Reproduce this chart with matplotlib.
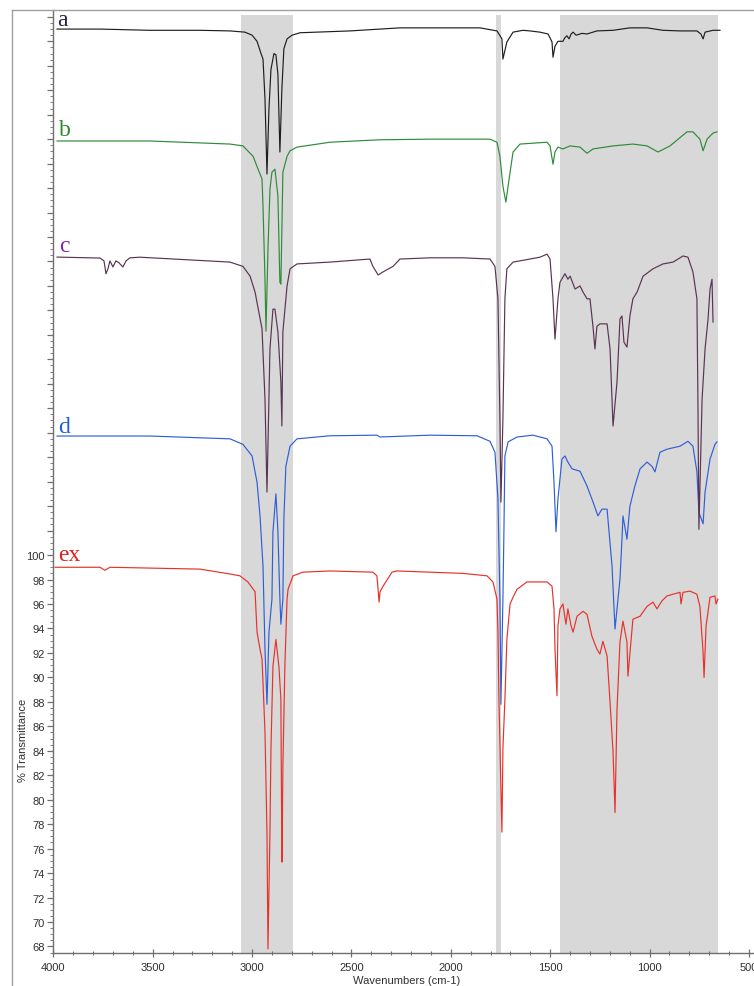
import matplotlib
matplotlib.use("Agg")
import matplotlib.pyplot as plt
from matplotlib.lines import Line2D

# ---------------- data (wavenumber cm-1, displayed %T with stacking offsets) -------------
a_wn = [3981, 3765, 3514, 3262, 3111, 3036, 3000, 2975, 2955, 2945, 2935, 2925, 2915, 2905, 2890, 2880,
        2870, 2860, 2850, 2840, 2824, 2799, 2759, 2507, 2256, 1853, 1768, 1743, 1738, 1718, 1687, 1637,
        1602, 1552, 1511, 1491, 1486, 1476, 1461, 1436, 1426, 1416, 1405, 1395, 1385, 1370, 1340, 1315,
        1265, 1184, 1099, 1013, 933, 847, 762, 742, 731, 721, 681, 646]
a_t = [143.0, 143.0, 142.9, 142.9, 142.85, 142.75, 142.5, 142.0, 141.0, 140.55, 137.3, 131.15, 136.5, 139.7,
       141.0, 140.9, 139.3, 132.95, 138.1, 141.4, 142.2, 142.5, 142.7, 142.85, 143.1, 143.1, 142.85, 142.2,
       140.55, 141.95, 142.75, 142.9, 142.85, 142.75, 142.6, 141.95, 140.7, 141.6, 142.0, 142.0, 142.3,
       142.45, 142.2, 142.6, 142.75, 142.5, 142.65, 142.6, 142.85, 142.9, 143.1, 143.1, 142.9, 142.85,
       142.85, 142.6, 142.2, 142.75, 142.9, 142.9]

b_wn = [3981, 3514, 3111, 3046, 2995, 2970, 2950, 2945, 2935, 2930, 2920, 2910, 2900, 2885, 2870, 2860,
        2855, 2850, 2845, 2824, 2809, 2774, 2608, 2356, 2105, 1803, 1768, 1753, 1738, 1723, 1712, 1702,
        1687, 1652, 1516, 1501, 1486, 1476, 1461, 1436, 1400, 1350, 1315, 1285, 1184, 1084, 1013, 958,
        897, 812, 782, 747, 731, 711, 681, 661]
b_t = [133.85, 133.85, 133.6, 133.45, 132.6, 131.55, 130.75, 128.55, 122.56, 118.3, 125.0, 129.9, 131.3,
       131.55, 129.35, 122.3, 122.15, 126.65, 131.3, 132.6, 133.05, 133.35, 133.75, 133.95, 134.0, 134.0,
       133.75, 132.6, 130.15, 128.85, 130.15, 131.3, 132.95, 133.6, 133.75, 133.45, 131.95, 132.95, 133.35,
       133.2, 133.45, 133.35, 132.85, 133.2, 133.45, 133.6, 133.45, 132.95, 133.45, 134.6, 134.6, 134.0,
       133.05, 134.0, 134.5, 134.6]

c_wn = [3981, 3765, 3745, 3735, 3725, 3715, 3700, 3685, 3670, 3650, 3634, 3614, 3564, 3111, 3046, 3010,
        2985, 2950, 2935, 2925, 2910, 2895, 2885, 2870, 2855, 2850, 2845, 2824, 2809, 2774, 2608, 2407,
        2392, 2366, 2341, 2291, 2256, 2105, 1939, 1803, 1778, 1763, 1753, 1748, 1738, 1728, 1718, 1687,
        1602, 1552, 1516, 1501, 1486, 1476, 1461, 1451, 1426, 1411, 1400, 1375, 1350, 1335, 1315, 1300,
        1285, 1275, 1265, 1250, 1214, 1199, 1184, 1164, 1149, 1139, 1129, 1114, 1099, 1084, 1063, 1033,
        983, 933, 882, 832, 807, 782, 762, 757, 752, 736, 721, 706, 696, 686, 681]
c_t = [124.36, 124.28, 124.05, 123.0, 123.4, 124.05, 123.55, 124.05, 123.9, 123.55, 124.05, 124.3, 124.35,
       123.95, 123.6, 122.8, 121.5, 118.5, 112.75, 105.15, 116.85, 120.1, 120.1, 118.25, 114.15, 110.55,
       118.25, 122.0, 123.4, 123.8, 123.95, 124.2, 123.6, 122.9, 123.15, 123.6, 124.2, 124.3, 124.3, 124.2,
       123.6, 120.95, 111.1, 104.33, 111.1, 120.95, 123.4, 123.95, 124.2, 124.35, 124.6, 124.2, 120.95,
       117.65, 120.95, 122.3, 123.0, 122.55, 122.8, 121.75, 122.0, 121.5, 120.95, 120.95, 118.7, 116.85,
       118.7, 118.9, 118.9, 116.85, 110.55, 114.15, 119.3, 119.55, 117.4, 117.0, 119.55, 120.95, 121.5,
       122.8, 123.4, 123.8, 123.95, 124.45, 124.35, 123.15, 120.95, 112.75, 102.1, 112.75, 116.85, 119.3,
       121.75, 122.55, 119.05]

d_wn = [3981, 3514, 3111, 3046, 3000, 2975, 2960, 2945, 2935, 2925, 2915, 2900, 2895, 2880, 2870, 2860,
        2855, 2845, 2840, 2830, 2809, 2774, 2608, 2372, 2356, 2105, 1868, 1803, 1778, 1763, 1753, 1748,
        1738, 1733, 1728, 1712, 1667, 1587, 1516, 1491, 1481, 1471, 1461, 1441, 1426, 1411, 1390, 1350,
        1315, 1285, 1260, 1240, 1214, 1189, 1174, 1149, 1139, 1134, 1114, 1099, 1074, 1048, 1013, 988,
        973, 948, 913, 847, 807, 782, 762, 752, 731, 721, 696, 671, 661]
d_t = [109.73, 109.73, 109.5, 109.05, 108.1, 105.95, 103.2, 99.1, 92.3, 87.8, 93.7, 96.4, 101.9, 105.0,
       101.9, 96.4, 94.35, 96.4, 102.95, 107.25, 108.9, 109.5, 109.75, 109.8, 109.65, 109.8, 109.75, 109.3,
       108.4, 104.6, 96.4, 87.8, 96.4, 101.9, 108.1, 109.25, 109.65, 109.8, 109.5, 108.9, 105.95, 101.9,
       104.6, 107.85, 108.1, 107.6, 107.05, 106.85, 105.65, 104.35, 103.2, 103.75, 103.75, 99.1, 93.95,
       98.05, 101.3, 103.2, 101.3, 104.0, 105.65, 107.05, 107.6, 107.25, 106.8, 108.4, 108.65, 108.9, 109.3,
       108.9, 106.8, 103.5, 102.55, 105.15, 107.85, 109.05, 109.25]

ex_wn = [3991, 3765, 3740, 3715, 3262, 3111, 3061, 3021, 2985, 2975, 2960, 2950, 2945, 2935, 2925, 2920,
         2910, 2905, 2895, 2880, 2865, 2855, 2852, 2849, 2845, 2835, 2824, 2819, 2794, 2744, 2608, 2392,
         2372, 2366, 2361, 2356, 2341, 2296, 2271, 2105, 1939, 1818, 1788, 1768, 1763, 1758, 1748, 1743,
         1738, 1728, 1718, 1702, 1687, 1667, 1617, 1516, 1491, 1481, 1476, 1466, 1461, 1451, 1436, 1421,
         1411, 1395, 1385, 1365, 1335, 1315, 1290, 1265, 1250, 1235, 1214, 1199, 1184, 1174, 1164, 1149,
         1134, 1114, 1109, 1094, 1084, 1048, 1013, 983, 963, 938, 913, 882, 847, 842, 832, 797, 762, 747,
         731, 726, 716, 696, 671, 666, 656]
ex_t = [99.0, 99.0, 98.75, 99.0, 98.85, 98.45, 98.3, 97.8, 97.0, 93.7, 92.3, 91.5, 89.6, 85.5, 77.35, 67.8,
        77.35, 84.15, 90.9, 93.1, 90.9, 88.2, 80.0, 74.9, 82.7, 90.9, 96.4, 97.2, 98.3, 98.6, 98.7, 98.6,
        98.3, 97.2, 96.15, 97.0, 97.45, 98.6, 98.7, 98.6, 98.5, 98.3, 97.8, 96.4, 93.7, 88.2, 80.85, 77.35,
        84.15, 88.2, 93.1, 96.0, 96.55, 97.2, 97.8, 97.8, 97.45, 95.6, 92.3, 88.5, 94.2, 95.6, 96.0, 94.35,
        95.6, 94.2, 93.7, 95.0, 95.4, 95.15, 93.35, 92.3, 91.9, 92.95, 91.75, 87.95, 83.9, 78.95, 87.4, 92.9,
        94.6, 92.9, 90.1, 92.9, 94.75, 95.0, 95.8, 96.15, 95.6, 96.25, 96.65, 96.8, 96.95, 96.0, 96.95,
        97.05, 96.8, 95.8, 92.05, 90.0, 94.2, 96.55, 96.65, 96.0, 96.4]

series_names = ["a", "b", "c", "d", "ex"]
label_wn = [3981, 3971, 3971, 3976, 3976]
label_t = [143.3, 134.35, 124.85, 110.1, 99.6]
bands = [(3055, 2795), (1775, 1748), (1450, 655)]
y_ticks = list(range(68, 101, 2))
x_ticks = [4000, 3500, 3000, 2500, 2000, 1500, 1000, 500]

# ---------------- figure ----------------
W, H = 754, 987
fig = plt.figure(figsize=(W / 100, H / 100), dpi=100)
fig.patch.set_facecolor("white")
ax = fig.add_axes([53.3 / W, 1 - 954.3 / H, 1 - 53.3 / W, (954.3 - 11) / H])
ax.set_xlim(4000, 474.8)
ax.set_ylim(67.44, 144.56)

for lo, hi in bands:
    ax.axvspan(lo, hi, ymin=0, ymax=0.9945, color="#d8d8d8", lw=0, zorder=0)

line_colors = ["#1e1e1e", "#2f8a3a", "#5a3352", "#2f5fd6", "#e8312b"]
label_colors = ["#2a1f4a", "#2c8a2c", "#7a2aa8", "#2060d0", "#e02020"]
spectra = [(a_wn, a_t), (b_wn, b_t), (c_wn, c_t), (d_wn, d_t), (ex_wn, ex_t)]
zorders = [6, 5, 7, 4, 3]
for (wn, t), col, z in zip(spectra, line_colors, zorders):
    ax.plot(wn, t, color=col, lw=0.85, zorder=z)

for name, x, y, col in zip(series_names, label_wn, label_t, label_colors):
    ax.text(x, y, name, color=col, fontsize=17, family="Liberation Serif",
            ha="left", va="baseline", zorder=10)

ax.set_xticks(x_ticks)
ax.set_xticks(list(range(4000, 474, -100)), minor=True)
ax.set_yticks(list(range(68, 145, 2)))
ax.set_yticklabels([str(v) if v <= 100 else "" for v in range(68, 145, 2)])
ax.set_yticks([v / 2 for v in range(135, 289)], minor=True)
ax.set_xticklabels([str(v) for v in x_ticks])

for s in ["top", "right"]:
    ax.spines[s].set_visible(False)
for s in ["left", "bottom"]:
    ax.spines[s].set_color("#707070")
    ax.spines[s].set_linewidth(1.0)

ax.tick_params(axis="x", which="major", direction="inout", length=6, width=0.9, color="#707070",
               labelsize=8, labelcolor="#303030", pad=3)
ax.tick_params(axis="x", which="minor", direction="inout", length=3, width=0.8, color="#707070")
ax.tick_params(axis="y", which="major", direction="out", length=4, width=0.9, color="#707070",
               labelsize=8, labelcolor="#303030", pad=2)
ax.tick_params(axis="y", which="minor", direction="out", length=2, width=0.7, color="#808080")
for lbl in ax.get_xticklabels() + ax.get_yticklabels():
    lbl.set_family("Liberation Sans")

fig.text(23 / W, 1 - 740 / H, "% Transmittance", rotation=90, ha="center", va="center",
         fontsize=8, family="Liberation Sans", color="#303030")
fig.text(407 / W, 1 - 981 / H, "Wavenumbers (cm-1)", ha="center", va="center",
         fontsize=8, family="Liberation Sans", color="#303030")

# outer frame
fig.add_artist(Line2D([12 / W, 12 / W], [0, 1 - 11 / H], color="#a0a0a0", lw=1.0))
fig.add_artist(Line2D([12 / W, 1], [1 - 11 / H, 1 - 11 / H], color="#a0a0a0", lw=1.0))

fig.savefig("out.png", dpi=100, facecolor="white")
